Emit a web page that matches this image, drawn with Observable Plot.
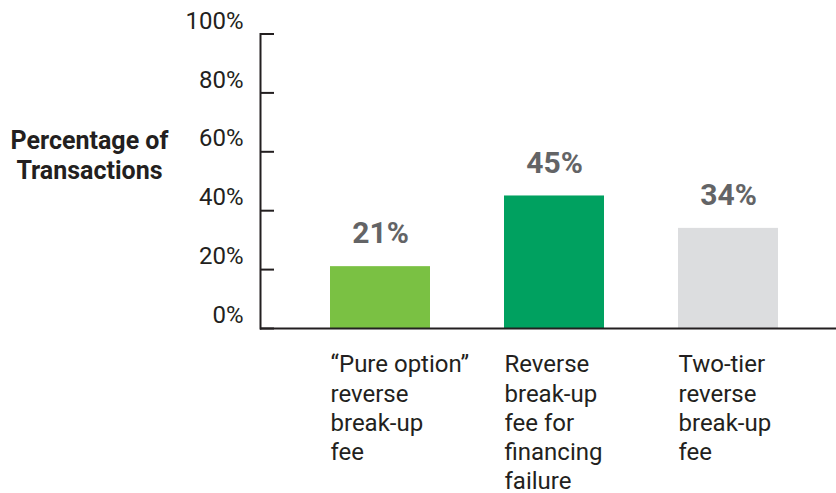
<!DOCTYPE html>
<html>
<head>
<meta charset="utf-8">
<script src="https://cdn.jsdelivr.net/npm/d3@7"></script>
<script src="https://cdn.jsdelivr.net/npm/@observablehq/plot@0.6"></script>
<style>
  html, body { margin: 0; padding: 0; background: #fff; }
  #chart svg { display: block; }
</style>
</head>
<body>
<div id="chart"></div>
<script>
const categories = [
  "\u201CPure option\u201D\nreverse\nbreak-up\nfee",
  "Reverse\nbreak-up\nfee for\nfinancing\nfailure",
  "Two-tier\nreverse\nbreak-up\nfee"
];
const values = [21, 45, 34];
const valueLabels = ["21%", "45%", "34%"];
const barColors = ["#7ac143", "#00a160", "#dcdddf"];
const yTicks = [0, 20, 40, 60, 80, 100];
const yTitle = "Percentage of\nTransactions";

const data = categories.map((c, i) => ({category: c, value: values[i], label: valueLabels[i], color: barColors[i]}));

const chart = Plot.plot({
  width: 836,
  height: 493,
  marginLeft: 260,
  marginRight: 0,
  marginTop: 33.5,
  marginBottom: 165,
  style: {fontFamily: "Roboto, 'Noto Sans', sans-serif", background: "#fff"},
  x: {domain: categories, range: [329, 778], paddingInner: 0.427, paddingOuter: 0, axis: null},
  y: {domain: [0, 100], axis: null},
  marks: [
    Plot.barY(data, {x: "category", y: "value", fill: "color"}),
    Plot.text(data, {x: "category", y: "value", text: "label", dy: -33, lineAnchor: "middle",
      fontSize: 30, fontWeight: "bold", fill: "#636466"}),
    Plot.text(data, {x: "category", text: "category", frameAnchor: "bottom", textAnchor: "start",
      lineAnchor: "top", dx: -50, dy: 23, fontSize: 24, lineHeight: 1.22, fill: "#231f20"}),
    Plot.axisY({ticks: yTicks, tickFormat: d => `${d}%`, tickSize: 0, tickPadding: 17, dy: -13,
      fontSize: 24, fill: "#231f20", label: null}),
    Plot.ruleY(yTicks, {insetRight: 562, stroke: "#231f20", strokeWidth: 2}),
    Plot.frame({anchor: "left", stroke: "#231f20", strokeWidth: 2}),
    Plot.ruleY([0], {stroke: "#231f20", strokeWidth: 2}),
    Plot.text([yTitle], {frameAnchor: "top-left", dx: -171, dy: 120.5, textAnchor: "middle",
      lineAnchor: "middle", lineHeight: 1.2, fontSize: 25, fontWeight: "bold", fill: "#231f20"})
  ]
});
document.getElementById("chart").appendChild(chart);
</script>
</body>
</html>
